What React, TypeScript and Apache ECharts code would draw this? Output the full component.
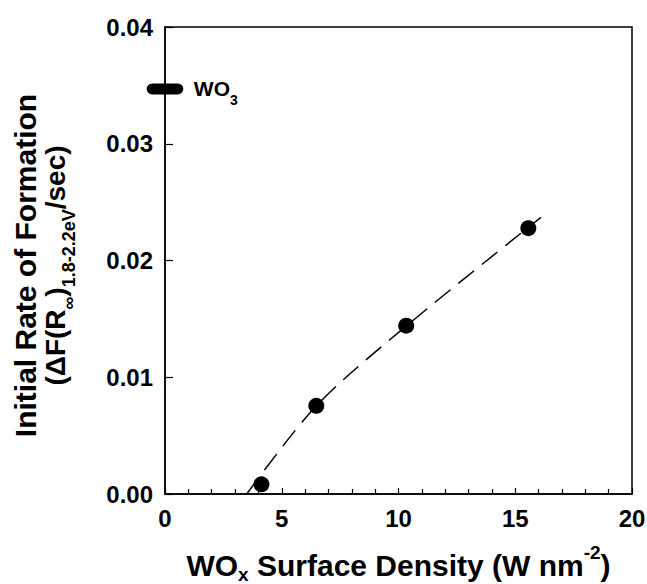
import React, { useEffect, useRef } from "react";
import * as echarts from "echarts";

const densities = [4.13, 6.48, 10.33, 15.56];
const rates = [0.00083, 0.00755, 0.01442, 0.02277];
const fitX = [3.5, 6.5, 10.4, 16.1];
const fitY = [0.0, 0.0076, 0.0145, 0.0237];
const wo3X = [-0.55, 0.55];
const wo3Rate = 0.0347;
const xTicks = { min: 0, max: 20, interval: 5 };
const yTicks = { min: 0, max: 0.04, interval: 0.01 };

const FONT = "'Liberation Sans', Arial, Helvetica, sans-serif";

export default function App() {
  const ref = useRef<HTMLDivElement>(null);
  useEffect(() => {
    if (!ref.current) return;
    const chart = echarts.init(ref.current, undefined, { renderer: "svg" });
    const pts = densities.map((d, i) => [d, rates[i]]);
    const fit = fitX.map((x, i) => [x, fitY[i]]);
    chart.setOption({
      animation: false,
      backgroundColor: "#ffffff",
      grid: {
        left: 165, right: 15, top: 27, bottom: 90,
        containLabel: false, outerBoundsMode: "none",
        show: true, borderColor: "#000", borderWidth: 1.5, backgroundColor: "transparent",
      },
      xAxis: {
        type: "value",
        min: xTicks.min,
        max: xTicks.max,
        interval: xTicks.interval,
        axisLine: { show: true, lineStyle: { color: "#000", width: 1.5 } },
        axisTick: { show: true, inside: true, length: 6, lineStyle: { color: "#000", width: 1.2 } },
        minorTick: { show: true, splitNumber: 5, length: 5, lineStyle: { color: "#000", width: 1.2 } },
        splitLine: { show: false },
        axisLabel: { color: "#000", fontFamily: FONT, fontWeight: "bold", fontSize: 24, margin: 12 },
        name: "{a|WO}{s|x}{a| Surface Density (W nm}{p|-2}{a|)}",
        nameLocation: "middle",
        nameGap: 53,
        nameTextStyle: {
          rich: {
            a: { fontFamily: FONT, fontWeight: "bold", fontSize: 30, color: "#000", lineHeight: 36 },
            s: { fontFamily: FONT, fontWeight: "bold", fontSize: 19, color: "#000", verticalAlign: "bottom", lineHeight: 36, padding: [0, 0, -1, 0] },
            p: { fontFamily: FONT, fontWeight: "bold", fontSize: 19, color: "#000", verticalAlign: "top", lineHeight: 36, padding: [-4, 0, 0, 0] },
          },
        },
      },
      yAxis: {
        type: "value",
        min: yTicks.min,
        max: yTicks.max,
        interval: yTicks.interval,
        axisLine: { show: true, lineStyle: { color: "#000", width: 1.5 } },
        axisTick: { show: true, inside: true, length: 8, lineStyle: { color: "#000", width: 1.2 } },
        splitLine: { show: false },
        axisLabel: { color: "#000", fontFamily: FONT, fontWeight: "bold", fontSize: 24, margin: 12, formatter: (v: number) => v.toFixed(2) },
        name: "{a|Initial Rate of Formation}\n{b|(ΔF(R}{s|∞}{b|)}{s|1.8-2.2eV}{b|/sec)}",
        nameLocation: "middle",
        nameRotate: 90,
        nameGap: 95,
        nameTextStyle: {
          align: "center",
          padding: [0, 10, 0, 0],
          rich: {
            a: { fontFamily: FONT, fontWeight: "bold", fontSize: 30, color: "#000", lineHeight: 30, align: "center" },
            b: { fontFamily: FONT, fontWeight: "bold", fontSize: 28, color: "#000", lineHeight: 30 },
            s: { fontFamily: FONT, fontWeight: "bold", fontSize: 18, color: "#000", lineHeight: 30, verticalAlign: "bottom", padding: [0, 0, -8, 0] },
          },
        },
      },
      series: [
        {
          type: "line",
          data: fit,
          smooth: 0.3,
          showSymbol: false,
          symbol: "none",
          lineStyle: { color: "#000", width: 1.5, type: [20, 10] },
          z: 2,
        },
        {
          type: "scatter",
          data: pts,
          symbol: "circle",
          symbolSize: 16,
          itemStyle: { color: "#000", opacity: 1 },
          z: 3,
        },
        {
          type: "custom",
          clip: false,
          data: [[wo3X[0], wo3X[1], wo3Rate]],
          renderItem: (params: any, api: any) => {
            const p0 = api.coord([api.value(0), api.value(2)]);
            const p1 = api.coord([api.value(1), api.value(2)]);
            return {
              type: "group",
              children: [
                {
                  type: "line",
                  shape: { x1: p0[0], y1: p0[1], x2: p1[0], y2: p1[1] },
                  style: { stroke: "#000", lineWidth: 11, lineCap: "round" },
                },
                {
                  type: "text",
                  x: p1[0] + 16,
                  y: p1[1],
                  style: {
                    text: "{a|WO}{s|3}",
                    verticalAlign: "middle",
                    rich: {
                      a: { fontFamily: FONT, fontWeight: "bold", fontSize: 21, fill: "#000", lineHeight: 24 },
                      s: { fontFamily: FONT, fontWeight: "bold", fontSize: 14, fill: "#000", lineHeight: 24, verticalAlign: "bottom", padding: [0, 0, -6, 0] },
                    },
                  },
                },
              ],
            };
          },
          z: 4,
        },
      ],
    });
    return () => chart.dispose();
  }, []);
  return <div ref={ref} style={{ position: "fixed", left: 0, top: 0, width: 647, height: 584 }} />;
}
